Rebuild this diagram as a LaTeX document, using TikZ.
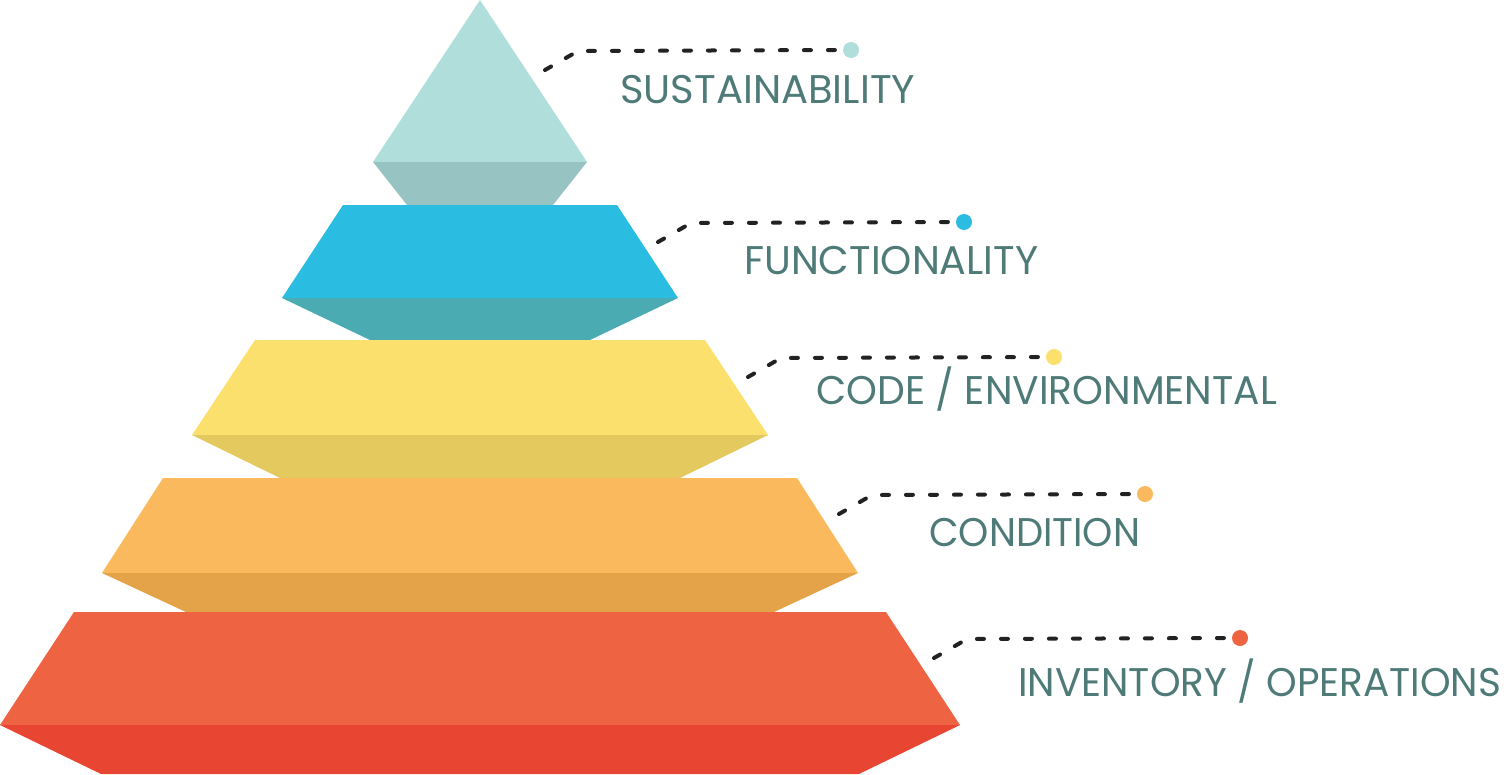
\documentclass[tikz,border=0pt]{standalone}
\usepackage{graphicx}
\usepackage{fontspec}
\setmainfont{Poppins}
\definecolor{tealL}{HTML}{B0DEDB}
\definecolor{tealD}{HTML}{97C3C2}
\definecolor{blueL}{HTML}{2BBCE2}
\definecolor{blueD}{HTML}{4AABB2}
\definecolor{yelL}{HTML}{FBE06D}
\definecolor{yelD}{HTML}{E4C95E}
\definecolor{orL}{HTML}{F9B95C}
\definecolor{orD}{HTML}{E5A349}
\definecolor{redL}{HTML}{EE6443}
\definecolor{redD}{HTML}{E84632}
\definecolor{txt}{HTML}{4E7A78}
\definecolor{dash}{HTML}{222222}
\begin{document}
\begin{tikzpicture}[x=1pt,y=-1pt,
  lbl/.style={anchor=base west, inner sep=0pt, text=txt, font=\fontsize{40}{42}\selectfont},
  dotmark/.style={circle, inner sep=0pt, minimum size=16pt},
  leader/.style={draw=dash, line width=4pt, line cap=round, dash pattern=on 7pt off 17pt}]
\useasboundingbox (0,0) rectangle (1504,774);
% layers
\fill[tealL] (480,0) -- (587,162) -- (373,162) -- cycle;
\fill[tealD] (373,162) -- (587,162) -- (553,205) -- (407,205) -- cycle;
\fill[blueL] (343,205) -- (617,205) -- (678,298) -- (282,298) -- cycle;
\fill[blueD] (282,298) -- (678,298) -- (590,340) -- (370,340) -- cycle;
\fill[yelL] (255,340) -- (705,340) -- (768,435) -- (192,435) -- cycle;
\fill[yelD] (192,435) -- (768,435) -- (680,478) -- (280,478) -- cycle;
\fill[orL] (163,478) -- (797,478) -- (858,573) -- (102,573) -- cycle;
\fill[orD] (102,573) -- (858,573) -- (774,612) -- (186,612) -- cycle;
\fill[redL] (74,612) -- (886,612) -- (960,725) -- (0,725) -- cycle;
\fill[redD] (0,725) -- (960,725) -- (859,774) -- (101,774) -- cycle;
% labels
\foreach \n/\dx/\dy/\c/\tx/\ty/\w/\t in {
  a/851/50/tealL/620/103/295/{SUSTAINABILITY},
  b/964/222/blueL/744/274/294/{FUNCTIONALITY},
  c/1054/357/yelL/816/404/461/{CODE / ENVIRONMENTAL},
  d/1145/494/orL/929/546/211/{CONDITION},
  e/1240/638/redL/1018/696/483/{INVENTORY / OPERATIONS}}{
  \node[dotmark, fill=\c] (dot\n) at (\dx,\dy) {};
  \coordinate (s\n) at (\dx-306,\dy+20);
  \coordinate (k\n) at (\dx-273,\dy+1);
  \draw[leader] (s\n) -- (k\n) -- (dot\n.west);
  \node[lbl] (t\n) at (\tx,\ty) {\resizebox{\w pt}{\height}{\t}};
}
\end{tikzpicture}
\end{document}
